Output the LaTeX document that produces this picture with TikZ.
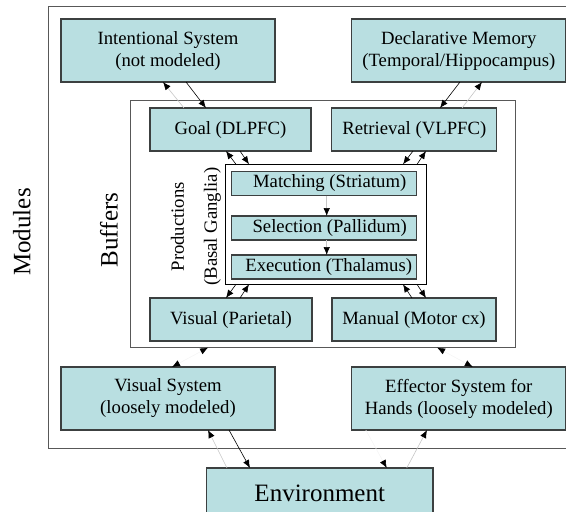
\documentclass[tikz,border=0pt]{standalone}
\usepackage{fontspec}
\setmainfont{Liberation Serif}
\usetikzlibrary{arrows.meta}

\definecolor{boxfill}{RGB}{185,223,225}
\definecolor{boxline}{RGB}{60,64,64}
\definecolor{frameline}{RGB}{88,88,88}

\tikzset{
  unit/.style={draw=boxline, fill=boxfill, line width=1.2pt, inner sep=0pt, outer sep=0pt,
    align=center, font=\fontsize{18.7pt}{22pt}\selectfont},
  frame/.style={draw=frameline, line width=1.3pt, inner sep=0pt, outer sep=0pt},
  tag/.style={font=\fontsize{25pt}{30pt}\selectfont, rotate=90},
  link/.style={-{Latex[length=8pt,width=6.5pt,color=black]}, draw=black, line width=0.6pt},
  faint/.style={link, draw=gray!45},
  hidden/.style={link, draw=gray!8},
  twoway/.style={{Latex[length=8pt,width=6.5pt,color=black]}-{Latex[length=8pt,width=6.5pt,color=black]}, draw=gray!8, line width=0.6pt}
}

\begin{document}
\begin{tikzpicture}[x=1pt,y=-1pt]
  \useasboundingbox (0,0) rectangle (566,512);
  \clip (0,0) rectangle (566,512);
  % Modules
  \node[frame, minimum width=560pt, minimum height=442pt] (modules) at (328.5,227.75) {};
  \node[tag] (modtag) at (21.7,232) {Modules};
  \node[unit, minimum width=214pt, minimum height=63pt] (intent) at (168,50.5) {Intentional System\\(not modeled)};
  \node[unit, minimum width=214pt, minimum height=63pt] (declar) at (458.8,50.5) {Declarative Memory\\(Temporal/Hippocampus)};
  \node[unit, minimum width=214pt, minimum height=63pt] (vissys) at (168,398.5) {Visual System\\(loosely modeled)};
  \node[unit, minimum width=214pt, minimum height=63pt] (effector) at (458.8,398.5) {Effector System for\\Hands (loosely modeled)};
  % - Buffers
  \node[frame, minimum width=385pt, minimum height=247pt] (buffers) at (323.1,224.1) {};
  \node[tag] (buftag) at (109,230) {Buffers};
  \node[unit, minimum width=161pt, minimum height=43pt] (goal) at (230.5,129.5) {Goal (DLPFC)};
  \node[unit, minimum width=165pt, minimum height=43pt] (retr) at (414.3,129.5) {Retrieval (VLPFC)};
  \node[unit, minimum width=162pt, minimum height=43pt] (visual) at (231,319.5) {Visual (Parietal)};
  \node[unit, minimum width=164pt, minimum height=43pt] (manual) at (414,319.5) {Manual (Motor cx)};
  % - Productions
  \node[frame, draw=black, line width=1.2pt, minimum width=201pt, minimum height=120pt] (prod) at (326,224.3) {};
  \node[rotate=90, align=center, font=\fontsize{18.7pt}{33pt}\selectfont] (prodtag) at (196,226.7) {Productions\\(Basal Ganglia)};
  \node[unit, minimum width=185pt, minimum height=24pt] (match) at (323.7,183.5) {\hspace*{12pt}Matching (Striatum)};
  \node[unit, minimum width=185pt, minimum height=24pt] (select) at (323.7,228) {\hspace*{12pt}Selection (Pallidum)};
  \node[unit, minimum width=185pt, minimum height=24pt] (exec) at (323.7,267) {\hspace*{10pt}Execution (Thalamus)};
  \draw[faint] ([xshift=3pt]match.south) -- ([xshift=3pt]select.north);
  \draw[faint] ([xshift=3pt]select.south) -- ([xshift=3pt]exec.north);
  % Environment
  \node[unit, font=\fontsize{25pt}{30pt}\selectfont, minimum width=226.5pt, minimum height=50pt] (env) at (319.75,493) {Environment};

  % module <-> buffer
  \draw[faint] ([xshift=-46.5pt]goal.north) -- ([xshift=-5pt]intent.south);
  \draw[link] ([xshift=18pt]intent.south) -- ([xshift=-24.5pt]goal.north);
  \draw[link] ([xshift=1.2pt]declar.south) -- ([xshift=25.7pt]retr.north);
  \draw[faint] ([xshift=47.7pt]retr.north) -- ([xshift=23.2pt]declar.south);
  \draw[twoway] ([xshift=4pt]vissys.north) -- ([xshift=-115pt]buffers.south);
  \draw[twoway] ([xshift=114pt]buffers.south) -- ([xshift=14pt]effector.north);
  % buffer <-> productions
  \draw[link] ([xshift=-90pt]prod.north) -- ([xshift=-4.5pt]goal.south);
  \draw[link] ([xshift=9.5pt]goal.south) -- ([xshift=-77pt]prod.north);
  \draw[link] ([xshift=-1.3pt]retr.south) -- ([xshift=77pt]prod.north);
  \draw[link] ([xshift=91pt]prod.north) -- ([xshift=11.7pt]retr.south);
  \draw[link] ([xshift=-90pt]prod.south) -- ([xshift=-5pt]visual.north);
  \draw[link] ([xshift=9pt]visual.north) -- ([xshift=-77pt]prod.south);
  \draw[link] ([xshift=-2pt]manual.north) -- ([xshift=77pt]prod.south);
  \draw[link] ([xshift=91pt]prod.south) -- ([xshift=12pt]manual.north);
  % environment
  \draw[faint] ([xshift=-92.75pt]env.north) -- ([xshift=40pt]vissys.south);
  \draw[link] ([xshift=61pt]vissys.south) -- ([xshift=-69.75pt]env.north);
  \draw[faint] ([xshift=87pt]env.north) -- ([xshift=-31.8pt]effector.south);
  \draw[hidden] ([xshift=-93pt]effector.south) -- ([xshift=67pt]env.north);
\end{tikzpicture}
\end{document}
